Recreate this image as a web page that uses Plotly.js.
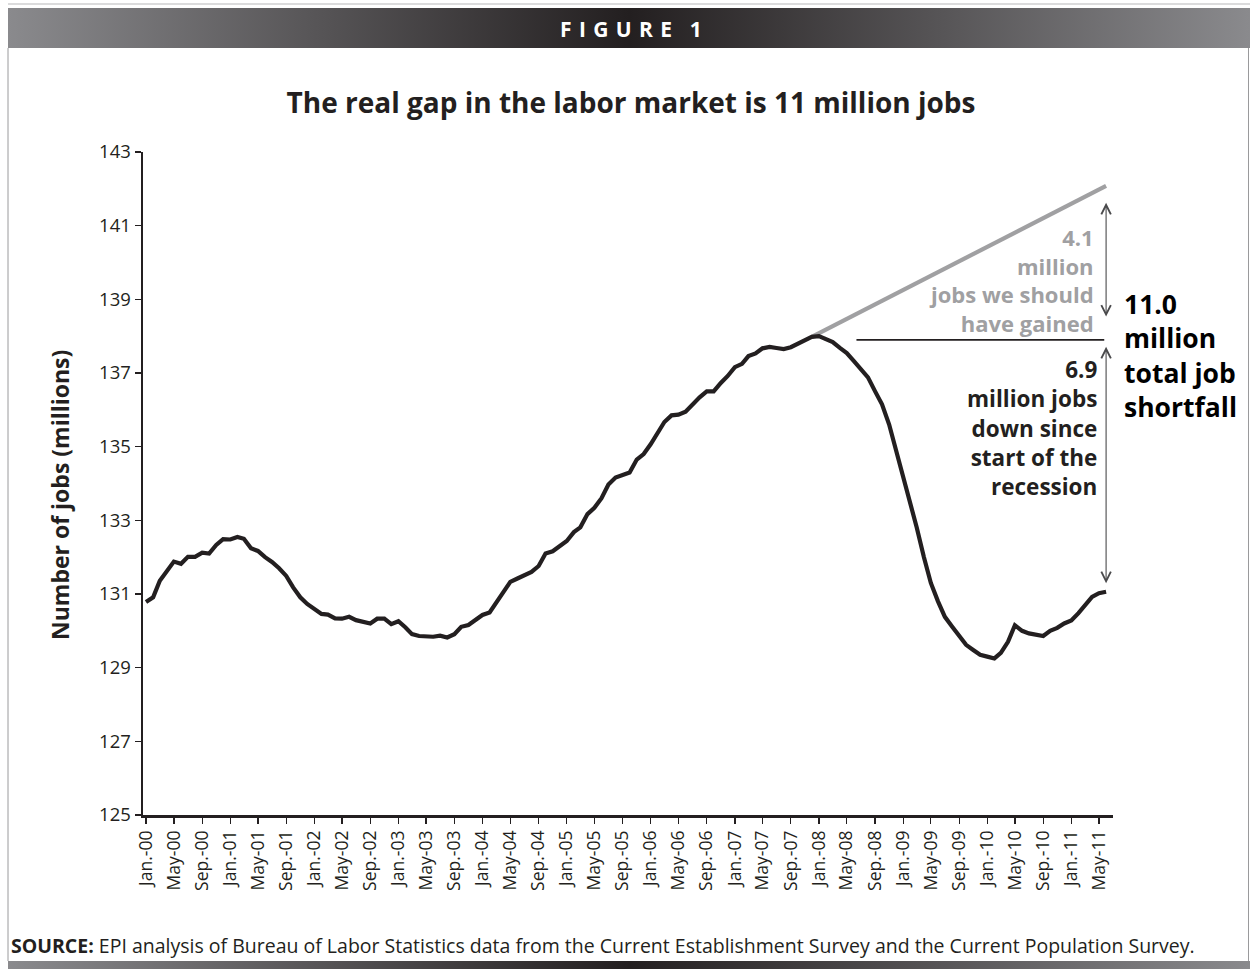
<!DOCTYPE html>
<html>
<head>
<meta charset="utf-8">
<script src="https://cdn.plot.ly/plotly-3.0.1.min.js"></script>
<style>html,body{margin:0;padding:0;background:#fff;}#chart{width:1250px;height:973px;}</style>
</head>
<body>
<div id="chart"></div>
<script>
// ---- Data (millions of jobs, monthly, Jan 2000 - Jun 2011) ----
const startYear = 2000;
const jobs = [
  130.78, 130.91, 131.36, 131.63, 131.88, 131.82, 132.01, 132.01, 132.12, 132.10, 132.33, 132.49,
  132.48, 132.55, 132.50, 132.24, 132.17, 132.00, 131.87, 131.70, 131.49, 131.18, 130.91, 130.73,
  130.59, 130.46, 130.44, 130.34, 130.33, 130.38, 130.29, 130.25, 130.20, 130.33, 130.33, 130.18,
  130.26, 130.09, 129.91, 129.86, 129.84, 129.84, 129.87, 129.82, 129.91, 130.11, 130.16, 130.30,
  130.43, 130.50, 130.77, 131.02, 131.33, 131.42, 131.50, 131.60, 131.76, 132.10, 132.16, 132.30,
  132.44, 132.68, 132.81, 133.17, 133.34, 133.60, 133.97, 134.16, 134.22, 134.30, 134.65, 134.80,
  135.07, 135.39, 135.67, 135.85, 135.87, 135.95, 136.15, 136.34, 136.50, 136.50, 136.73, 136.92,
  137.16, 137.25, 137.46, 137.53, 137.67, 137.71, 137.68, 137.65, 137.70, 137.80, 137.91, 137.98,
  138.00, 137.92, 137.84, 137.68, 137.54, 137.32, 137.10, 136.88, 136.50, 136.15, 135.60, 134.90,
  134.25, 133.50, 132.80, 132.00, 131.30, 130.80, 130.38, 130.12, 129.85, 129.62, 129.48, 129.35,
  129.30, 129.25, 129.40, 129.70, 130.15, 130.00, 129.93, 129.90, 129.86, 130.00, 130.08, 130.20,
  130.28, 130.48, 130.68, 130.92, 131.02, 131.06
];
// Trend of jobs we should have gained (from Dec 2007 to Jun 2011)
const trendDates = ['2007-12-01', '2011-06-01'];
const trendValues = [137.98, 142.08];

const tickLabels = [
  'Jan.-00','May-00','Sep.-00','Jan.-01','May-01','Sep.-01','Jan.-02','May-02','Sep.-02',
  'Jan.-03','May-03','Sep.-03','Jan.-04','May-04','Sep.-04','Jan.-05','May-05','Sep.-05',
  'Jan.-06','May-06','Sep.-06','Jan.-07','May-07','Sep.-07','Jan.-08','May-08','Sep.-08',
  'Jan.-09','May-09','Sep.-09','Jan.-10','May-10','Sep.-10','Jan.-11','May-11'
];
const yTicks = [125, 127, 129, 131, 133, 135, 137, 139, 141, 143];

// annotation levels (millions)
const gapLevel = 137.9;
const upperArrow = [141.62, 138.49];
const lowerArrow = [137.71, 131.25];

// ---- month categories (dates) ----
const months = jobs.map((v, i) => {
  const y = startYear + Math.floor(i / 12);
  const m = (i % 12) + 1;
  return y + '-' + (m < 10 ? '0' + m : m) + '-01';
});
const tickVals = months.filter((d, i) => i % 4 === 0);
const lastMonth = months[months.length - 1];

const W = 1250, H = 973;
const px = x => x / W;
const py = y => 1 - y / H;
const INK = '#231f20';
const GRAY = '#a0a0a2';
const FONT = '"Open Sans", "Noto Sans", sans-serif';

const gradScale = [[0, '#8a8a8d'], [0.5, '#231f20'], [1, '#8a8a8d']];

const traces = [
  { type: 'scatter', x: [8, 1250, 1250, 8], y: [8, 8, 48, 48], xaxis: 'x2', yaxis: 'y2',
    mode: 'none', fill: 'toself', fillgradient: { type: 'horizontal', colorscale: gradScale },
    hoverinfo: 'skip', showlegend: false },
  { type: 'scatter', x: [8, 1250, 1250, 8], y: [961, 961, 969, 969], xaxis: 'x2', yaxis: 'y2',
    mode: 'none', fill: 'toself', fillgradient: { type: 'horizontal', colorscale: gradScale },
    hoverinfo: 'skip', showlegend: false },
  { type: 'scatter', x: trendDates, y: trendValues, mode: 'lines',
    line: { color: GRAY, width: 4.2 }, hoverinfo: 'skip', showlegend: false },
  { type: 'scatter', x: months, y: jobs, mode: 'lines',
    line: { color: INK, width: 4.2 }, hoverinfo: 'skip', showlegend: false }
];

function boldLines(lines) { return lines.map(l => '<b>' + l + '</b>').join('<br>'); }

const layout = {
  width: W, height: H,
  margin: { l: 0, r: 0, t: 0, b: 0, pad: 0 },
  paper_bgcolor: '#ffffff', plot_bgcolor: 'rgba(0,0,0,0)',
  showlegend: false,
  font: { family: FONT, color: INK },
  title: {
    text: '<b>The real gap in the labor market is 11 million jobs</b>',
    x: px(631), xref: 'container', xanchor: 'center',
    y: py(103), yref: 'container', yanchor: 'middle',
    font: { size: 28, family: FONT, color: INK }
  },
  xaxis: {
    type: 'date', domain: [px(143), px(1113)], range: ['1999-12-19', '2011-07-01'],
    tickmode: 'array', tickvals: tickVals, ticktext: tickLabels, tickangle: -90,
    ticks: 'outside', ticklen: 6, tickwidth: 1.3, tickcolor: INK,
    showline: true, linewidth: 2.5, linecolor: INK,
    showgrid: false, zeroline: false, fixedrange: true,
    tickfont: { size: 17.5, family: FONT, color: INK }, anchor: 'y'
  },
  yaxis: {
    domain: [py(815), py(152)], range: [125, 143],
    tickmode: 'array', tickvals: yTicks,
    ticks: 'outside', ticklen: 6, tickwidth: 1.3, tickcolor: INK,
    showline: true, linewidth: 2.5, linecolor: INK,
    showgrid: false, zeroline: false, fixedrange: true,
    tickfont: { size: 18.5, family: FONT, color: INK }, anchor: 'x'
  },
  xaxis2: { domain: [0, 1], range: [0, W], visible: false, anchor: 'y2', fixedrange: true },
  yaxis2: { domain: [0, 1], range: [H, 0], visible: false, anchor: 'x2', fixedrange: true },
  shapes: [
    { type: 'line', xref: 'paper', yref: 'paper', x0: px(8), x1: px(8), y0: py(48), y1: py(961),
      line: { color: '#9a9a9c', width: 1 } },
    { type: 'line', xref: 'paper', yref: 'paper', x0: px(1248.5), x1: px(1248.5), y0: py(48), y1: py(961),
      line: { color: '#9a9a9c', width: 1 } },
    { type: 'line', xref: 'paper', yref: 'paper', x0: px(8), x1: px(1250), y0: py(4), y1: py(4),
      line: { color: '#cfcfd1', width: 1.5 } },
    { type: 'line', xref: 'x', yref: 'y', x0: '2008-06-12', x1: '2011-05-24', y0: gapLevel, y1: gapLevel,
      line: { color: INK, width: 1.6 } }
  ],
  annotations: [
    { text: '<b>F\u2005\u200AI\u2005\u200AG\u2005\u200AU\u2005\u200AR\u2005\u200AE\u2002\u2005\u200A1</b>', xref: 'paper', yref: 'paper',
      x: px(631), y: py(29), xanchor: 'center', yanchor: 'middle', showarrow: false,
      font: { size: 21, color: '#ffffff', family: FONT } },
    { text: '<b>Number of jobs (millions)</b>', xref: 'paper', yref: 'paper',
      x: px(60), y: py(495), xanchor: 'center', yanchor: 'middle', textangle: -90, showarrow: false,
      font: { size: 23, color: INK, family: FONT } },
    { text: boldLines(['4.1', 'million', 'jobs we should', 'have gained']), xref: 'paper', yref: 'paper',
      x: px(1096), y: py(280), xanchor: 'right', yanchor: 'middle', align: 'right', showarrow: false,
      font: { size: 22, color: GRAY, family: FONT } },
    { text: boldLines(['6.9', 'million jobs', 'down since', 'start of the', 'recession']), xref: 'paper', yref: 'paper',
      x: px(1099), y: py(428), xanchor: 'right', yanchor: 'middle', align: 'right', showarrow: false,
      font: { size: 22.5, color: INK, family: FONT } },
    { text: boldLines(['11.0', 'million', 'total job', 'shortfall']), xref: 'paper', yref: 'paper',
      x: px(1122), y: py(355), xanchor: 'left', yanchor: 'middle', align: 'left', showarrow: false,
      font: { size: 26.5, color: '#000000', family: FONT } },
    { text: '<b>SOURCE:</b> EPI analysis of Bureau of Labor Statistics data from the Current Establishment Survey and the Current Population Survey.',
      xref: 'paper', yref: 'paper', x: px(9), y: py(945), xanchor: 'left', yanchor: 'middle', showarrow: false,
      font: { size: 19.5, color: INK, family: FONT } },
    { text: '', xref: 'x', yref: 'y', axref: 'x', ayref: 'y',
      x: lastMonth, y: upperArrow[0], ax: lastMonth, ay: upperArrow[1],
      showarrow: true, arrowside: 'end+start', arrowhead: 5, startarrowhead: 5,
      arrowsize: 1.7, startarrowsize: 1.7, arrowwidth: 1.1, arrowcolor: '#4a4a4c', standoff: 0, startstandoff: 0 },
    { text: '', xref: 'x', yref: 'y', axref: 'x', ayref: 'y',
      x: lastMonth, y: lowerArrow[0], ax: lastMonth, ay: lowerArrow[1],
      showarrow: true, arrowside: 'end+start', arrowhead: 5, startarrowhead: 5,
      arrowsize: 1.7, startarrowsize: 1.7, arrowwidth: 1.1, arrowcolor: '#4a4a4c', standoff: 0, startstandoff: 0 }
  ]
};

Plotly.newPlot('chart', traces, layout, { staticPlot: true, displayModeBar: false });
</script>
</body>
</html>
